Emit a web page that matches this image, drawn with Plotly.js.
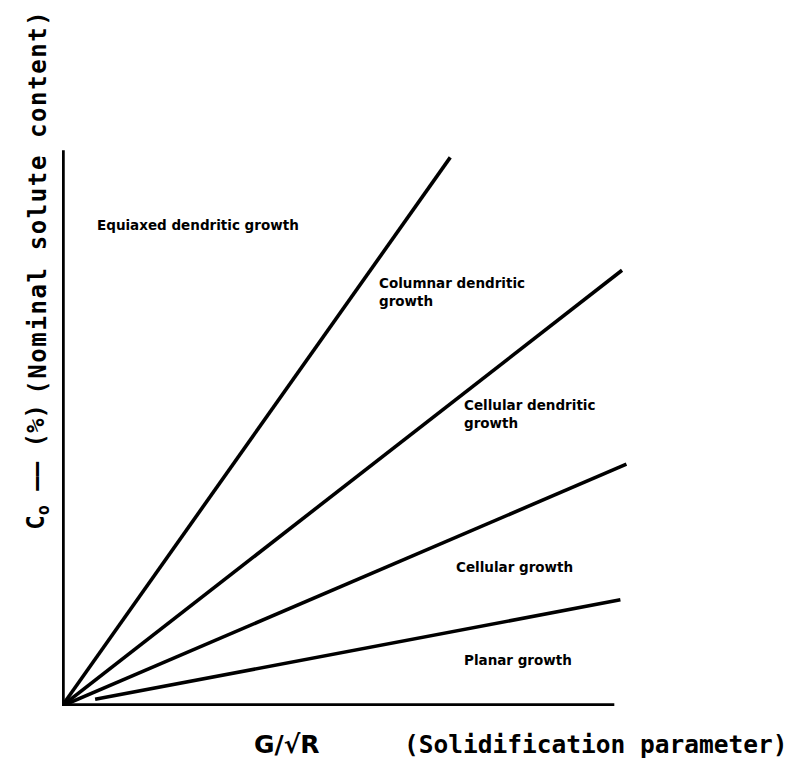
<!DOCTYPE html>
<html>
<head>
<meta charset="utf-8">
<script src="https://cdn.plot.ly/plotly-3.0.1.min.js"></script>
<style>
html,body{margin:0;padding:0;background:#fff;}
#chart{width:794px;height:760px;}
</style>
</head>
<body>
<div id="chart"></div>
<script>
// Boundary lines (from origin) between growth regimes, in arbitrary units of G/sqrt(R) and C0
var boundaryNames = ["Equiaxed/Columnar", "Columnar/Cellular dendritic", "Cellular dendritic/Cellular", "Cellular/Planar"];
var boundaryX0 = [0, 0, 0, 0.6];
var boundaryY0 = [0, 0, 0, 0.12];
var boundaryX1 = [7.03, 10.14, 10.22, 10.11];
var boundaryY1 = [9.87, 7.84, 4.35, 1.91];

// Axis extents
var axisXEnd = 10.0;
var axisYEnd = 10.0;

// Region labels and their anchor positions
var regionLabels = ["Equiaxed dendritic growth", "Columnar dendritic<br>growth", "Cellular dendritic<br>growth", "Cellular growth", "Planar growth"];
var regionX = [0.6, 5.7, 7.25, 7.1, 7.25];
var regionY = [8.66, 7.45, 5.25, 2.5, 0.82];

var traces = [];
traces.push({x:[0, axisXEnd], y:[0, 0], mode:'lines', line:{color:'#000', width:5.5}, hoverinfo:'skip', showlegend:false});
traces.push({x:[0, 0], y:[0, axisYEnd], mode:'lines', line:{color:'#000', width:5.5}, hoverinfo:'skip', showlegend:false});
for (var i = 0; i < boundaryNames.length; i++) {
  traces.push({x:[boundaryX0[i], boundaryX1[i]], y:[boundaryY0[i], boundaryY1[i]], mode:'lines', name:boundaryNames[i],
    line:{color:'#000', width:3.6}, hoverinfo:'skip', showlegend:false});
}

var annotations = [];
for (var j = 0; j < regionLabels.length; j++) {
  annotations.push({x:regionX[j], y:regionY[j], xref:'x', yref:'y', text:regionLabels[j], showarrow:false,
    xanchor:'left', yanchor:'middle', align:'left',
    font:{family:'DejaVu Sans', size:13.5, color:'#000', weight:'bold'}});
}
// vertical axis title, in two pieces
annotations.push({x:-0.034, y:0.7556, xref:'paper', yref:'paper', textangle:-90, showarrow:false,
  text:'(Nominal solute content)', xanchor:'center', yanchor:'middle',
  font:{family:'DejaVu Sans Mono', size:24, color:'#000', weight:'bold'}});
annotations.push({x:-0.034, y:0.358, xref:'paper', yref:'paper', textangle:-90, showarrow:false,
  text:'C<sub>o</sub> —— (%)', xanchor:'center', yanchor:'middle',
  font:{family:'DejaVu Sans Mono', size:24, color:'#000', weight:'bold'}});
// horizontal axis title
annotations.push({x:0.313, y:-0.058, xref:'paper', yref:'paper', showarrow:false,
  text:'G/√R', xanchor:'center', yanchor:'middle',
  font:{family:'DejaVu Sans', size:25, color:'#000', weight:'bold'}});
annotations.push({x:0.744, y:-0.058, xref:'paper', yref:'paper', showarrow:false,
  text:'(Solidification parameter)', xanchor:'center', yanchor:'middle',
  font:{family:'DejaVu Sans Mono', size:24.5, color:'#000', weight:'bold'}});

var layout = {
  width:794, height:760,
  margin:{l:62, r:14, t:39, b:54},
  paper_bgcolor:'#fff', plot_bgcolor:'#fff',
  xaxis:{range:[0, 13], visible:false, fixedrange:true},
  yaxis:{range:[0, 12], visible:false, fixedrange:true},
  annotations:annotations,
  showlegend:false
};

Plotly.newPlot('chart', traces, layout, {staticPlot:true, displayModeBar:false}).then(function(gd){
  // slightly widen the letter spacing of the vertical title, as in the original lettering
  var texts = gd.querySelectorAll('.annotation-text');
  texts.forEach(function(t){
    if (t.textContent.indexOf('Nominal') >= 0) {
      t.style.letterSpacing = '1.6px';
    }
  });
});
</script>
</body>
</html>
